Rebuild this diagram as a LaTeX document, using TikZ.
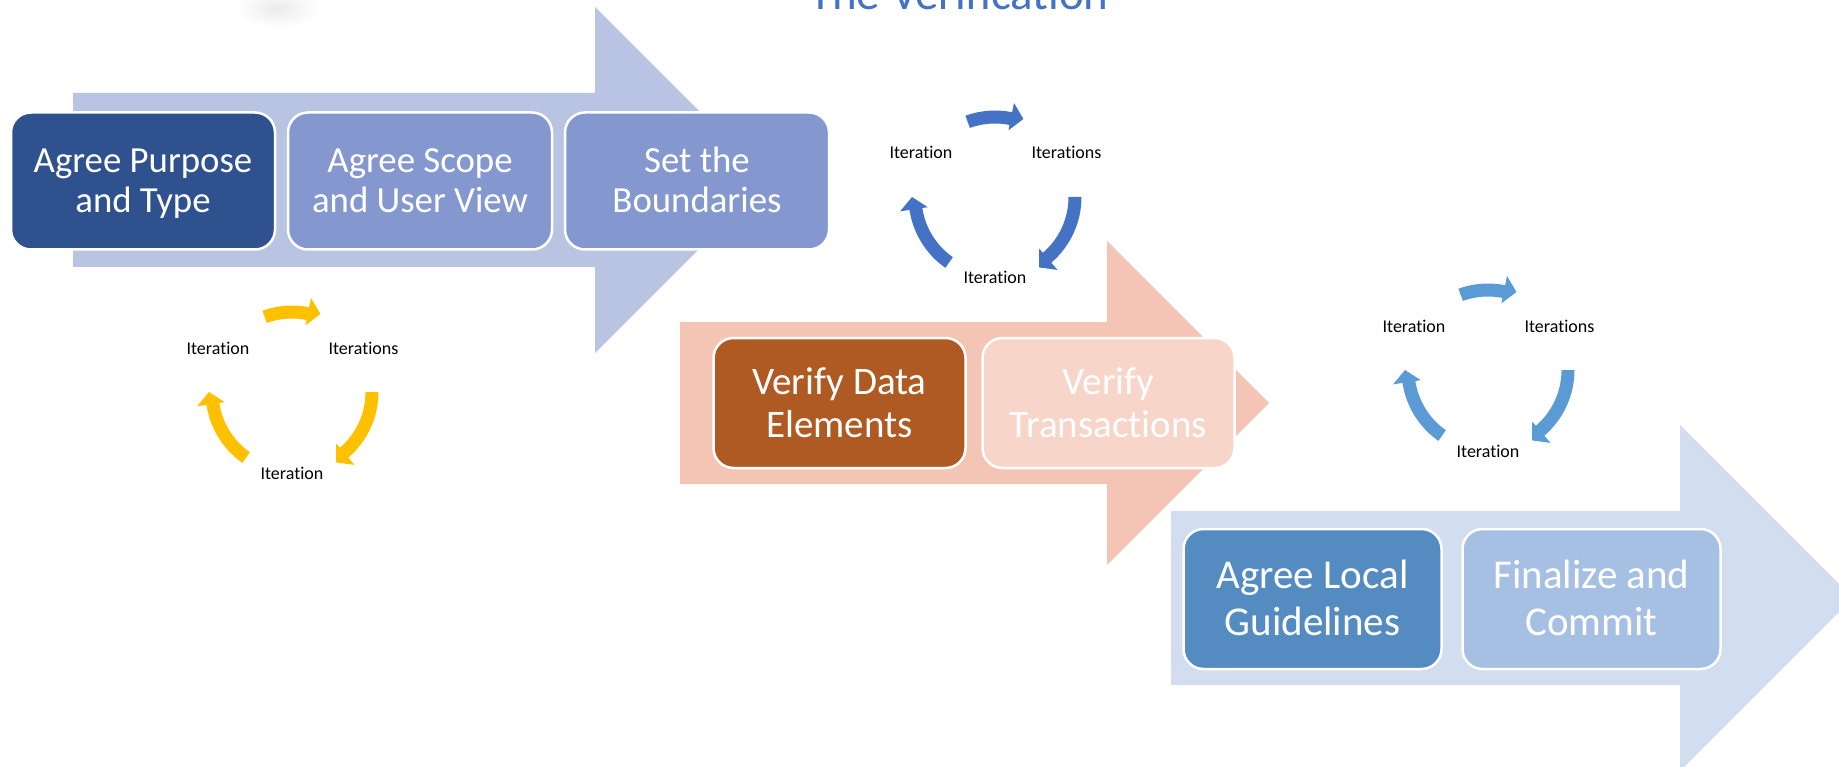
\documentclass[tikz,border=0pt]{standalone}
\usepackage{fontspec}
\setmainfont{Carlito}[Ligatures={NoCommon,NoRequired,NoContextual}]
\usetikzlibrary{calc}
\definecolor{titleblue}{RGB}{68,114,196}
\definecolor{arrowA}{RGB}{184,196,226}
\definecolor{arrowB}{RGB}{244,197,181}
\definecolor{arrowC}{RGB}{210,222,239}
\definecolor{boxAdark}{RGB}{47,82,143}
\definecolor{boxAlight}{RGB}{132,152,207}
\definecolor{boxBdark}{RGB}{175,90,34}
\definecolor{boxBlight}{RGB}{247,213,201}
\definecolor{boxCdark}{RGB}{84,140,193}
\definecolor{boxClight}{RGB}{166,192,227}
\definecolor{cycYellow}{RGB}{255,192,0}
\definecolor{cycBlue}{RGB}{68,114,196}
\definecolor{cycLight}{RGB}{91,155,213}
\newcommand\myfs[2]{\fontsize{#1}{#2}\selectfont}
% first-line strut with extra height (moves the text block slightly down)
\newcommand\topstrut{\rule{0pt}{\dimexpr0.7\baselineskip+8pt\relax}}
% curved cycle arrow: center, start angle, tip angle, colour
\newcommand\cycarrow[4]{%
  \fill[#4, shift={(#1)}] (#2:86.5pt)
    arc[start angle=#2, end angle={#3+8.6}, radius=86.5pt]
    -- ({#3+8.6}:96pt) -- (#3:83pt) -- ({#3+8.6}:68pt)
    -- ({#3+8.6}:73.5pt)
    arc[start angle={#3+8.6}, end angle=#2, radius=73.5pt] -- cycle;}
\tikzset{
  stagebox/.style={rectangle, rounded corners=20pt, draw=white, line width=2.5pt,
    text=white, align=center, inner sep=0pt},
  boxA/.style={stagebox, minimum width=264pt, minimum height=137pt, font=\myfs{36.8}{40}},
  boxB/.style={stagebox, minimum width=252pt, minimum height=130pt, font=\myfs{39}{43}},
  boxC/.style={stagebox, minimum width=258pt, minimum height=140pt, font=\myfs{41}{47}},
  cyclabel/.style={anchor=base, text=black, font=\myfs{18}{20}, inner sep=0pt}
}
\begin{document}
\begin{tikzpicture}[x=1pt, y=-1pt]
\useasboundingbox (0,0) rectangle (1839,767);
\clip (0,0) rectangle (1839,767);

% faint grey smudge at top
\shade[inner color=black!8, outer color=white] (277,8) ellipse [x radius=42pt, y radius=20pt];

% title (cut off at top)
\node[anchor=base, text=titleblue, font=\myfs{47}{50}, inner sep=0pt] (title) at (959,10) {The Verification};

% ---- stage 1 ----
\fill[arrowA] (73,93) -- (595,93) -- (595,7) -- (768,180) -- (595,353) -- (595,267) -- (73,267) -- cycle;
\node[boxA, fill=boxAdark]  (s1a) at (143,181) {\topstrut Agree Purpose\\\strut and Type};
\node[boxA, fill=boxAlight] (s1b) at (420,181) {\topstrut Agree Scope\\\strut and User View};
\node[boxA, fill=boxAlight] (s1c) at (697,181) {\topstrut Set the\\\strut Boundaries};

% ---- stage 2 ----
\fill[arrowB] (680,322) -- (1107,322) -- (1107,241) -- (1269,403) -- (1107,565) -- (1107,484) -- (680,484) -- cycle;
\node[boxB, fill=boxBdark]  (s2a) at (839.5,403) {\topstrut Verify Data\\\strut Elements};
\node[boxB, fill=boxBlight] (s2b) at (1108.5,403) {\topstrut Verify\\\strut Transactions};

% ---- stage 3 ----
\fill[arrowC] (1171,511) -- (1680,511) -- (1680,425) -- (1853,598) -- (1680,771) -- (1680,685) -- (1171,685) -- cycle;
\node[boxC, fill=boxCdark]  (s3a) at (1312.5,599) {\topstrut Agree Local\\\strut Guidelines};
\node[boxC, fill=boxClight] (s3b) at (1591.5,599) {\topstrut Finalize and\\\strut Commit};

% ---- iteration cycles ----
\coordinate (yc) at (292,392);
\coordinate (bc) at (995,197);
\coordinate (lc) at (1488,370);

\cycarrow{yc}{110}{70}{cycYellow}
\cycarrow{yc}{0}{-58}{cycYellow}
\cycarrow{yc}{235}{180}{cycYellow}
\node[cyclabel] (y1) at ($(yc)+(-74,-38)$) {Iteration};
\node[cyclabel] (y2) at ($(yc)+(71.5,-38)$) {Iterations};
\node[cyclabel] (y3) at ($(yc)+(0,87)$) {Iteration};

\cycarrow{bc}{110}{70}{cycBlue}
\cycarrow{bc}{0}{-58}{cycBlue}
\cycarrow{bc}{235}{180}{cycBlue}
\node[cyclabel] (b1) at ($(bc)+(-74,-38)$) {Iteration};
\node[cyclabel] (b2) at ($(bc)+(71.5,-38)$) {Iterations};
\node[cyclabel] (b3) at ($(bc)+(0,87)$) {Iteration};

\cycarrow{lc}{110}{70}{cycLight}
\cycarrow{lc}{0}{-58}{cycLight}
\cycarrow{lc}{235}{180}{cycLight}
\node[cyclabel] (l1) at ($(lc)+(-74,-38)$) {Iteration};
\node[cyclabel] (l2) at ($(lc)+(71.5,-38)$) {Iterations};
\node[cyclabel] (l3) at ($(lc)+(0,87)$) {Iteration};
\end{tikzpicture}
\end{document}
